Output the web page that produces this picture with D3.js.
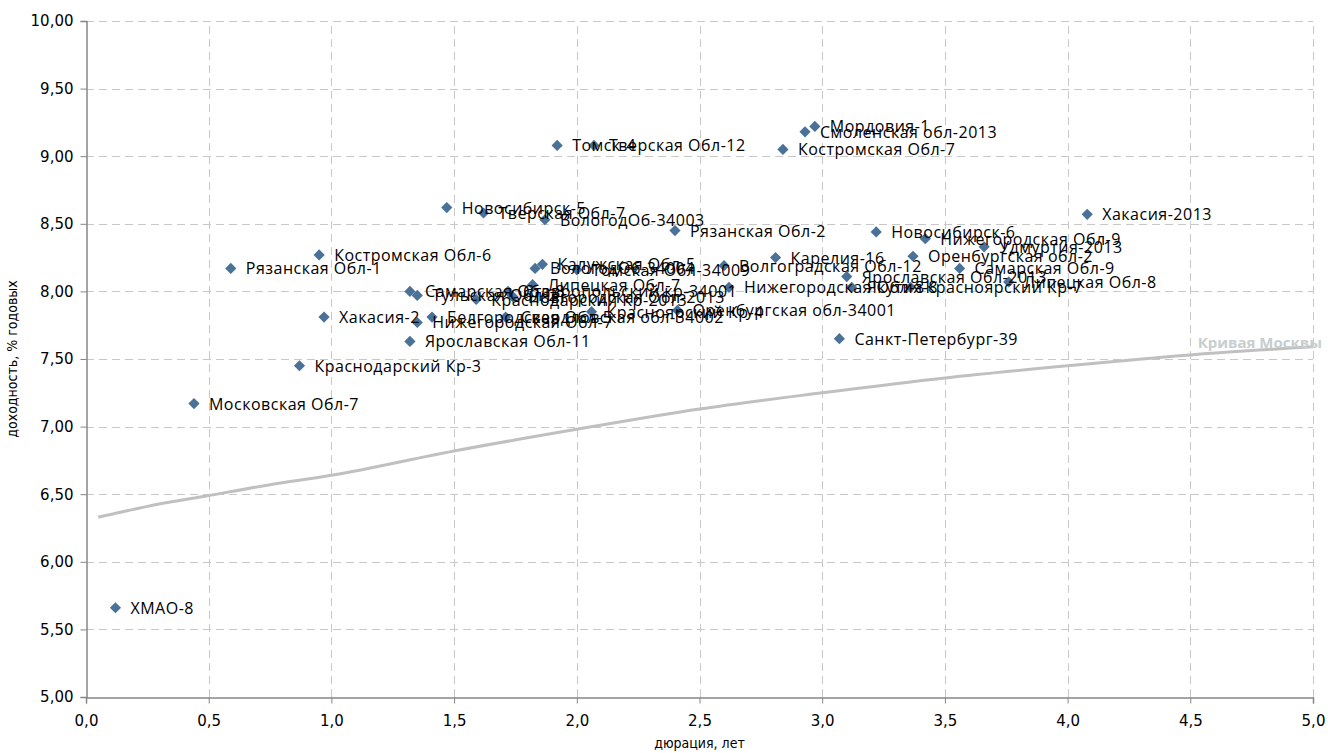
<!DOCTYPE html>
<html>
<head>
<meta charset="utf-8">
<script src="https://cdn.jsdelivr.net/npm/d3@7"></script>
<style>
  body { margin: 0; background: #fff; }
  svg { display: block; }
</style>
</head>
<body>
<svg width="1328" height="753"></svg>
<script>
// issuers (name, duration in years, yield %)
var names = [
  "ХМАО-8", "Московская Обл-7", "Краснодарский Кр-3", "Рязанская Обл-1", "Костромская Обл-6",
  "Хакасия-2", "Ярославская Обл-11", "Самарская Обл-8", "Тульская Обл-2", "Краснодарский Кр-2013",
  "Ставропольский кр-34001", "Новгородская Обл-2013", "Липецкая Обл-7", "ВологодОб-34004", "Калужская Обл-5",
  "Томская Обл-34009", "Белгородская Обл-5", "Нижегородская Обл-7", "Свердловская обл-34002", "Красноярский Кр-4",
  "Оренбургская обл-34001", "Волгоградская Обл-12", "Нижегородская Обл-8", "Карелия-16", "Санкт-Петербург-39",
  "Ярославская Обл-2013", "Якутия-8", "Новосибирск-6", "Красноярский Кр-7", "Оренбургская обл-2",
  "Нижегородская Обл-9", "Самарская Обл-9", "Удмуртия-2013", "Липецкая Обл-8", "Хакасия-2013",
  "Томск-4", "Тверская Обл-12", "Костромская Обл-7", "Смоленская обл-2013", "Мордовия-1",
  "Новосибирск-5", "Тверская Обл-7", "ВологодОб-34003", "Рязанская Обл-2"
];
var durations = [
  0.12, 0.44, 0.87, 0.59, 0.95,
  0.97, 1.32, 1.32, 1.35, 1.59,
  1.72, 1.74, 1.82, 1.83, 1.86,
  2.00, 1.41, 1.35, 1.71, 2.06,
  2.41, 2.60, 2.62, 2.81, 3.07,
  3.10, 3.12, 3.22, 3.36, 3.37,
  3.42, 3.56, 3.66, 3.76, 4.08,
  1.92, 2.07, 2.84, 2.93, 2.97,
  1.47, 1.62, 1.87, 2.40
];
var yields = [
  5.66, 7.17, 7.45, 8.17, 8.27,
  7.81, 7.63, 8.00, 7.97, 7.94,
  8.00, 7.96, 8.05, 8.17, 8.20,
  8.16, 7.81, 7.77, 7.81, 7.85,
  7.86, 8.19, 8.03, 8.25, 7.65,
  8.11, 8.03, 8.44, 8.03, 8.26,
  8.39, 8.17, 8.33, 8.07, 8.57,
  9.08, 9.08, 9.05, 9.18, 9.22,
  8.62, 8.58, 8.53, 8.45
];

// Moscow curve
var curveX = [0.05, 0.1, 0.25, 0.5, 0.75, 1.0, 1.5, 2.0, 2.5, 3.0, 3.5, 4.0, 4.5, 5.0];
var curveY = [6.33, 6.35, 6.41, 6.49, 6.57, 6.64, 6.82, 6.98, 7.13, 7.25, 7.36, 7.45, 7.53, 7.59];
var curveName = "Кривая Москвы";

var xTicks = [0, 0.5, 1, 1.5, 2, 2.5, 3, 3.5, 4, 4.5, 5];
var yTicks = [5, 5.5, 6, 6.5, 7, 7.5, 8, 8.5, 9, 9.5, 10];

var svg = d3.select("svg"),
    width = +svg.attr("width"),
    height = +svg.attr("height");
var margin = {top: 21, right: 15, bottom: 56, left: 86};

var x = d3.scaleLinear().domain([0, 5]).range([margin.left, width - margin.right]);
var y = d3.scaleLinear().domain([5, 10]).range([height - margin.bottom, margin.top]);

var fmt = function(d, n) { return d.toFixed(n).replace(".", ","); };

// grid
var grid = svg.append("g")
    .attr("stroke", "#c8c8c8")
    .attr("stroke-dasharray", "8,5")
    .attr("stroke-width", 1);
grid.selectAll("line.h")
    .data(yTicks.slice(1))
    .enter().append("line")
    .attr("x1", x(0)).attr("x2", x(5))
    .attr("y1", function(d) { return Math.round(y(d)) + 0.5; })
    .attr("y2", function(d) { return Math.round(y(d)) + 0.5; });
grid.selectAll("line.v")
    .data(xTicks.slice(1))
    .enter().append("line")
    .attr("y1", y(5)).attr("y2", y(10))
    .attr("x1", function(d) { return Math.round(x(d)) + 0.5; })
    .attr("x2", function(d) { return Math.round(x(d)) + 0.5; });

// axes
var yAxis = svg.append("g")
    .attr("transform", "translate(" + (margin.left + 0.5) + ",0)")
    .call(d3.axisLeft(y).tickValues(yTicks).tickSize(6).tickPadding(7).tickFormat(function(d) { return fmt(d, 2); }));
var xAxis = svg.append("g")
    .attr("transform", "translate(0," + (height - margin.bottom + 0.5) + ")")
    .call(d3.axisBottom(x).tickValues(xTicks).tickSize(6).tickPadding(12).tickFormat(function(d) { return fmt(d, 1); }));
[xAxis, yAxis].forEach(function(a) {
    a.select(".domain").attr("stroke", "#868686").attr("stroke-width", 1.5);
    a.selectAll(".tick line").attr("stroke", "#868686");
    a.selectAll("text")
        .attr("fill", "#000")
        .style("font-family", "'DejaVu Sans', Verdana, sans-serif")
        .style("font-size", "15px");
});

// axis titles
svg.append("text")
    .attr("x", x(2.5))
    .attr("y", 748)
    .attr("text-anchor", "middle")
    .style("font-family", "'Liberation Sans Narrow', 'DejaVu Sans Condensed', Arial, sans-serif")
    .style("font-size", "14px")
    .text("дюрация, лет");
svg.append("text")
    .attr("transform", "translate(17," + y(7.5) + ") rotate(-90)")
    .attr("text-anchor", "middle")
    .style("font-family", "'Liberation Sans Narrow', 'DejaVu Sans Condensed', Arial, sans-serif")
    .style("font-size", "14px")
    .text("доходность, % годовых");

// moscow curve
var line = d3.line()
    .x(function(d, i) { return x(curveX[i]); })
    .y(function(d) { return y(d); })
    .curve(d3.curveMonotoneX);
svg.append("path")
    .datum(curveY)
    .attr("d", line)
    .attr("fill", "none")
    .attr("stroke", "#c0c0c0")
    .attr("stroke-width", 3);
svg.append("text")
    .attr("x", x(4.53))
    .attr("y", y(curveY[curveY.length - 1]) + 1)
    .attr("fill", "#c6cece")
    .style("font-family", "'Open Sans', sans-serif")
    .style("font-size", "15px")
    .style("font-weight", "bold")
    .text(curveName);

// points
var pts = names.map(function(n, i) { return {name: n, x: durations[i], y: yields[i]}; });
var diamond = d3.symbol().type(d3.symbolDiamond2).size(80);

svg.append("g")
    .selectAll("path")
    .data(pts)
    .enter().append("path")
    .attr("d", diamond)
    .attr("transform", function(d) { return "translate(" + x(d.x) + "," + y(d.y) + ")"; })
    .attr("fill", "#4a7198");

svg.append("g")
    .selectAll("text")
    .data(pts)
    .enter().append("text")
    .attr("x", function(d) { return x(d.x) + 15; })
    .attr("y", function(d) { return y(d.y) + 6; })
    .style("font-family", "'Open Sans', sans-serif")
    .style("font-size", "16px")
    .style("letter-spacing", "0.5px")
    .attr("fill", "#000")
    .text(function(d) { return d.name; });
</script>
</body>
</html>
